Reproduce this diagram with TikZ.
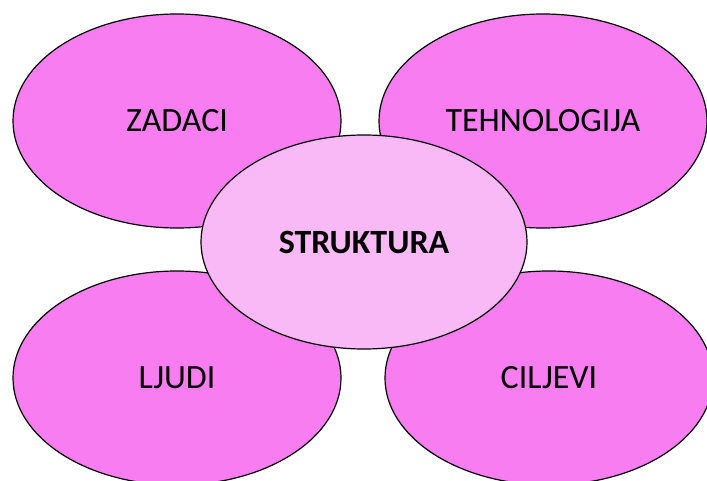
\documentclass[tikz,border=0pt]{standalone}
\usepackage{fontspec}
\setmainfont{Carlito}
\usetikzlibrary{shapes.geometric}

\definecolor{outerpink}{RGB}{247,125,240}
\definecolor{innerpink}{RGB}{249,185,246}

\tikzset{
  petal/.style={ellipse, draw=black, line width=0.6pt, fill=outerpink,
    minimum width=164pt, minimum height=107pt, inner sep=0pt,
    font=\fontsize{17}{20}\selectfont},
  hub/.style={petal, fill=innerpink, minimum width=163pt,
    font=\fontsize{17}{20}\selectfont\bfseries}
}

\begin{document}
\begin{tikzpicture}[x=0.5pt,y=-0.5pt]
\useasboundingbox (0,0) rectangle (707,481);
\clip (0,0) rectangle (707,481);
% outer ellipses
\node[petal] (zadaci) at (177,121) {ZADACI};
\node[petal] (tehnologija) at (543,121) {TEHNOLOGIJA};
\node[petal] (ljudi) at (177,378) {LJUDI};
\node[petal] (ciljevi) at (549,378) {CILJEVI};
% centre
\node[hub] (struktura) at (364,242) {STRUKTURA};
\end{tikzpicture}
\end{document}
